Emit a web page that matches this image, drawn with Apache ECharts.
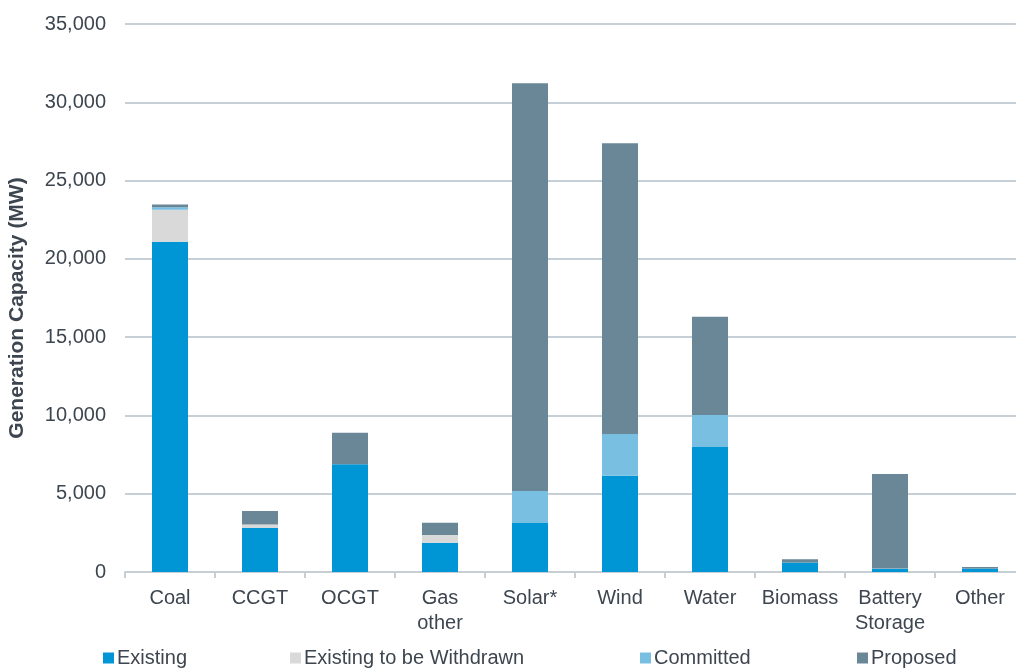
<!DOCTYPE html>
<html>
<head>
<meta charset="utf-8">
<script src="https://cdn.jsdelivr.net/npm/echarts@6/dist/echarts.min.js"></script>
<style>
html,body{margin:0;padding:0;background:#fff;}
#c{width:1016px;height:668px;}
</style>
</head>
<body>
<div id="c"></div>
<script>
const categories = ['Coal', 'CCGT', 'OCGT', 'Gas\nother', 'Solar*', 'Wind', 'Water', 'Biomass', 'Battery\nStorage', 'Other'];
const existing   = [21100, 2830, 6880, 1870, 3130, 6140, 7990, 600, 200, 230];
const withdrawn  = [2030, 200, 0, 490, 0, 0, 0, 0, 0, 0];
const committed  = [170, 0, 0, 0, 2050, 2680, 2040, 0, 30, 0];
const proposed   = [170, 870, 2020, 790, 26030, 18560, 6270, 210, 6030, 90];
const seriesNames = ['Existing', 'Existing to be Withdrawn', 'Committed', 'Proposed'];
const yTicks = { min: 0, max: 35000, interval: 5000 };

const textColor = '#3d4650';
const gridColor = '#c6cfd5';
const colors = ['#0096d6', '#d9d9d9', '#78bfe2', '#6a8798'];
const font = 'Liberation Sans, Arial, sans-serif';
const legendLeft = [98, 285, 635, 852];

const chart = echarts.init(document.getElementById('c'), null, { renderer: 'canvas' });
const dataSets = [existing, withdrawn, committed, proposed];

chart.setOption({
  animation: false,
  color: colors,
  textStyle: { fontFamily: font },
  grid: { left: 125, top: 24, width: 900, height: 548, containLabel: false, outerBoundsMode: 'none' },
  legend: seriesNames.map((n, i) => ({
    left: legendLeft[i], top: 643,
    itemWidth: 11, itemHeight: 11,
    icon: 'rect',
    textStyle: { fontFamily: font, fontSize: 20, color: textColor, padding: [0, 0, 0, -2] },
    data: [n]
  })),
  xAxis: {
    type: 'category',
    data: categories,
    axisLine: { lineStyle: { color: gridColor, width: 2 } },
    axisTick: { show: true, length: 6, lineStyle: { color: gridColor, width: 2 } },
    axisLabel: { fontFamily: font, fontSize: 20, color: textColor, margin: 14, lineHeight: 25, interval: 0 }
  },
  yAxis: {
    type: 'value',
    min: yTicks.min, max: yTicks.max, interval: yTicks.interval,
    name: 'Generation Capacity (MW)',
    nameLocation: 'middle',
    nameGap: 97,
    nameTextStyle: { fontFamily: font, fontSize: 21, fontWeight: 'bold', color: textColor, padding: [0, 20, 0, 0] },
    axisLine: { show: false },
    axisTick: { show: false },
    splitLine: { lineStyle: { color: gridColor, width: 2 } },
    axisLabel: {
      fontFamily: font, fontSize: 20, color: textColor, margin: 19,
      formatter: v => v.toLocaleString('en-US')
    }
  },
  series: seriesNames.map((n, i) => ({
    name: n,
    type: 'bar',
    stack: 'total',
    barWidth: 36,
    data: dataSets[i],
    itemStyle: { color: colors[i] }
  }))
});
</script>
</body>
</html>
